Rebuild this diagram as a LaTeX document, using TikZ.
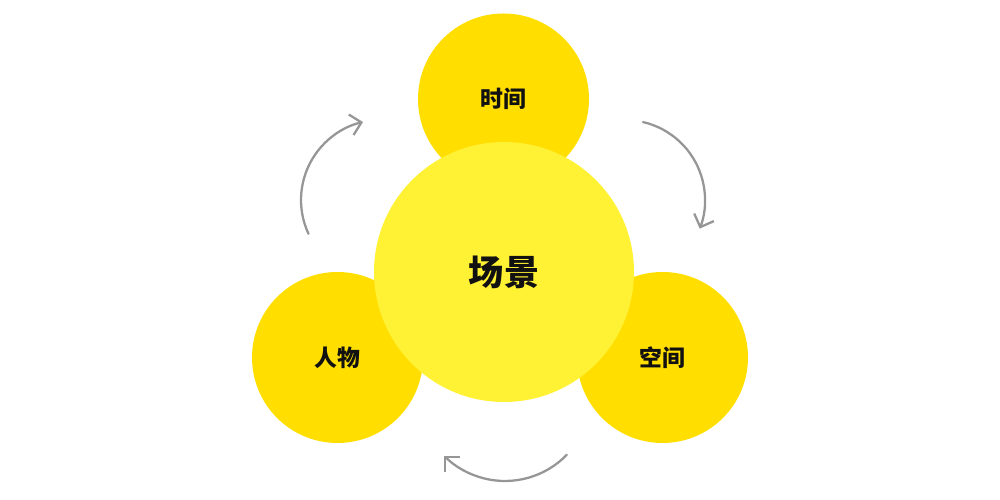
\documentclass[tikz,border=0pt]{standalone}
\usepackage{fontspec}
\usepackage{tikz}
\usetikzlibrary{arrows.meta,positioning,calc}
\newfontfamily\cjk{Noto Sans CJK SC}
\definecolor{scgold}  {RGB}{255,222,  0}
\definecolor{sclemon} {RGB}{255,241, 51}
\definecolor{scgray}  {RGB}{150,150,150}
\definecolor{sctext}  {RGB}{ 17, 17, 17}
\tikzset{
  ring/.style={circle,fill=scgold,draw=none,minimum size=3.42cm,
               inner sep=0pt,font=\cjk\bfseries\fontsize{13}{15}\selectfont,
               text=sctext},
  hub/.style={ring,fill=sclemon,minimum size=5.2cm,
              font=\cjk\bfseries\fontsize{20}{24}\selectfont},
  arr/.style={-{Straight Barb[length=6pt,width=12pt]},line width=1.3pt,
              color=scgray,line cap=round},
}
\begin{document}
\begin{tikzpicture}
  \useasboundingbox (0,0) rectangle (20,10);
  \node[ring] (TIME)   at (10.07,8.02) {时间};
  \node[ring] (PERSON) at (6.75,2.85)  {人物};
  \node[ring] (SPACE)  at (13.25,2.85) {空间};
  \node[hub]  (SCENE)  at (10.08,4.56) {场景};

  \coordinate (lstart) at ($(7.62,6.0)+(205:1.6)$);
  \coordinate (rstart) at ($(12.5,6.0)+(77:1.6)$);
  \coordinate (bstart) at ($(10.1,2.1)+(-44:1.72)$);
  \draw[arr] (lstart) arc[start angle=205,end angle=103,radius=1.6];
  \draw[arr] (rstart) arc[start angle=77,end angle=-21,radius=1.6];
  \draw[arr] (bstart) arc[start angle=-44,end angle=-135,radius=1.72];
\end{tikzpicture}
\end{document}
